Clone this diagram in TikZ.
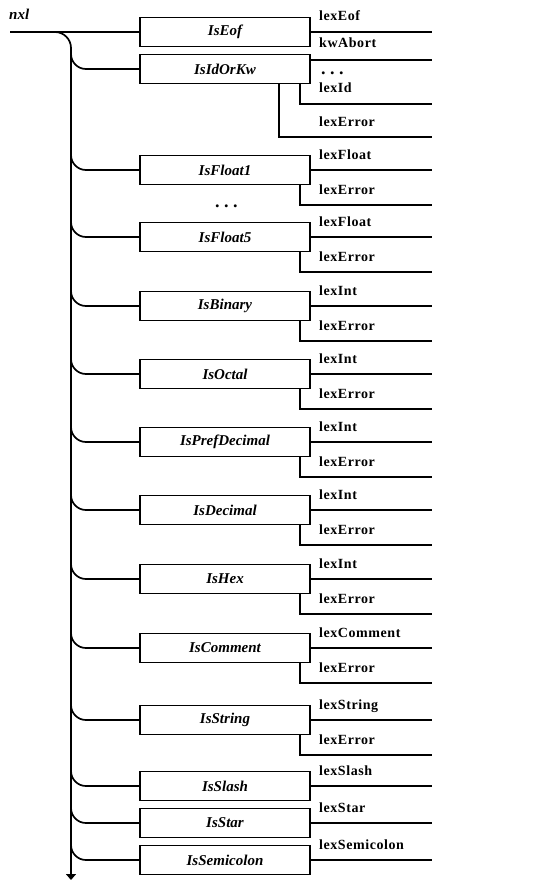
\documentclass[tikz,border=0pt]{standalone}
\usepackage{fontspec}
\setmainfont{Liberation Serif}
\newfontfamily\lblfont[LetterSpace=4]{Liberation Serif}
\newfontfamily\dotfont[LetterSpace=25]{Liberation Serif}
\usetikzlibrary{arrows.meta}
\tikzset{
  wire/.style={line width=1.7pt},
  fbox/.style={draw, line width=1.7pt, minimum width=170pt, minimum height=29pt, inner sep=0pt,
    font=\fontsize{15}{17}\selectfont\bfseries\itshape},
  lbl/.style={anchor=base west, inner sep=0pt, font=\lblfont\fontsize{14}{16}\selectfont\bfseries},
  dotlbl/.style={inner sep=0pt, font=\dotfont\fontsize{18}{18}\selectfont\bfseries},
}
\begin{document}
\begin{tikzpicture}[x=1pt,y=-1pt]
\useasboundingbox (0,0) rectangle (558,880);
% title
\node[anchor=base west, inner sep=0pt, font=\fontsize{15}{17}\selectfont\bfseries\itshape] (nxl) at (9,20) {nxl};
% boxes
\node[fbox] (eof) at (225,32) {IsEof};
\node[fbox] (idkw) at (225,69) {IsIdOrKw};
\node[fbox] (fl1) at (225,170) {IsFloat1};
\node[fbox] (fl5) at (225,237) {IsFloat5};
\node[fbox] (bin) at (225,306) {IsBinary};
\node[fbox] (oct) at (225,374) {IsOctal};
\node[fbox] (pdec) at (225,442) {IsPrefDecimal};
\node[fbox] (dec) at (225,510) {IsDecimal};
\node[fbox] (hex) at (225,579) {IsHex};
\node[fbox] (com) at (225,648) {IsComment};
\node[fbox] (str) at (225,720) {IsString};
\node[fbox] (sla) at (225,786) {IsSlash};
\node[fbox] (sta) at (225,823) {IsStar};
\node[fbox] (sem) at (225,860) {IsSemicolon};
\node[dotlbl, anchor=base west] (dots1) at (215,207) {...};
% input line and trunk
\coordinate (in) at (10,32);
\coordinate (cstart) at (55,32);
\coordinate (tk) at (71,48);
\coordinate (tkend) at (71,880);
\draw[wire] (in) -- (eof.west);
\draw[wire] (cstart) .. controls (63.8,32) and (71,39.2) .. (tk);
\draw[wire, -{Triangle[width=10pt,length=6pt]}] (tk) -- (tkend);
% branches
\foreach \n/\y in {idkw/69, fl1/170, fl5/237, bin/306, oct/374, pdec/442, dec/510, hex/579, com/648, str/720, sla/786, sta/823, sem/860}{
  \coordinate (\n-b) at (71,\y-15);
  \coordinate (\n-h) at (86,\y);
  \draw[wire] (\n-b) .. controls (71,\y-6.7) and (77.7,\y) .. (\n-h) -- (\n.west);
}
% right side: two-output boxes
\foreach \n/\y/\a/\b in {fl1/170/lexFloat/lexError, fl5/237/lexFloat/lexError, bin/306/lexInt/lexError, oct/374/lexInt/lexError, pdec/442/lexInt/lexError, dec/510/lexInt/lexError, hex/579/lexInt/lexError, com/648/lexComment/lexError, str/720/lexString/lexError}{
  \coordinate (\n-o1) at (432,\y);
  \coordinate (\n-v) at (300,\y+35);
  \coordinate (\n-o2) at (432,\y+35);
  \draw[wire] (\n.east) -- (\n-o1);
  \draw[wire] (\n-v |- \n.south) -- (\n-v) -- (\n-o2);
  \node[lbl] (\n-l1) at (319,\y-11) {\a};
  \node[lbl] (\n-l2) at (319,\y+24) {\b};
}
% single-output boxes
\foreach \n/\y/\a in {sla/786/lexSlash, sta/823/lexStar, sem/860/lexSemicolon}{
  \coordinate (\n-o1) at (432,\y);
  \draw[wire] (\n.east) -- (\n-o1);
  \node[lbl] (\n-l1) at (319,\y-11) {\a};
}
% IsEof outputs
\coordinate (eof-o1) at (432,32);
\draw[wire] (eof.east) -- (eof-o1);
\node[lbl] (eof-l1) at (319,21) {lexEof};
\node[lbl] (eof-l2) at (319,48) {kwAbort};
% IsIdOrKw outputs
\coordinate (idkw-o1) at (432,60);
\coordinate (idkw-v1) at (300,104);
\coordinate (idkw-o2) at (432,104);
\coordinate (idkw-v2) at (279,137);
\coordinate (idkw-o3) at (432,137);
\draw[wire] (idkw.east |- idkw-o1) -- (idkw-o1);
\draw[wire] (idkw-v1 |- idkw.south) -- (idkw-v1) -- (idkw-o2);
\draw[wire] (idkw-v2 |- idkw.south) -- (idkw-v2) -- (idkw-o3);
\node[dotlbl, anchor=base west] (idkw-dots) at (321,75) {...};
\node[lbl] (idkw-l2) at (319,93) {lexId};
\node[lbl] (idkw-l3) at (319,126) {lexError};
\end{tikzpicture}
\end{document}
